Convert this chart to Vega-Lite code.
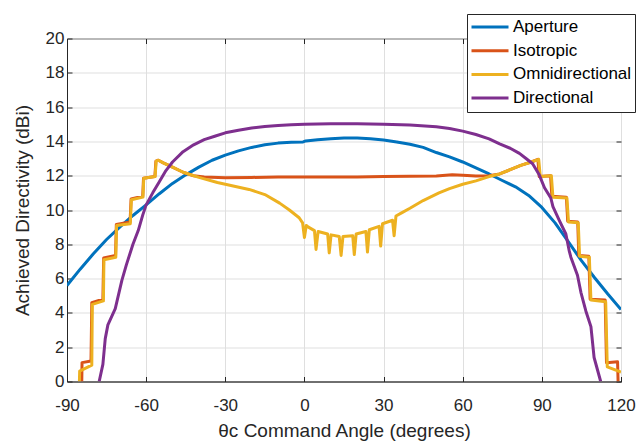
{
  "$schema": "https://vega.github.io/schema/vega-lite/v6.json",
  "autosize": {"type": "none"},
  "padding": {"left": 67, "top": 38.5, "right": 18, "bottom": 63.5},
  "width": 554,
  "height": 343,
  "background": "white",
  "config": {
    "font": "Liberation Sans",
    "view": {"stroke": "#262626", "strokeWidth": 1}
  },
  "data": {"values": [
    {"series":"Aperture","angle":-90,"dbi":5.6},{"series":"Aperture","angle":-85,"dbi":6.55},{"series":"Aperture","angle":-80,"dbi":7.45},{"series":"Aperture","angle":-75,"dbi":8.28},{"series":"Aperture","angle":-70,"dbi":9.0},{"series":"Aperture","angle":-65,"dbi":9.68},{"series":"Aperture","angle":-60,"dbi":10.3},{"series":"Aperture","angle":-55,"dbi":10.95},{"series":"Aperture","angle":-50,"dbi":11.55},{"series":"Aperture","angle":-45,"dbi":12.05},{"series":"Aperture","angle":-40,"dbi":12.5},{"series":"Aperture","angle":-35,"dbi":12.9},{"series":"Aperture","angle":-30,"dbi":13.2},{"series":"Aperture","angle":-25,"dbi":13.45},{"series":"Aperture","angle":-20,"dbi":13.65},{"series":"Aperture","angle":-15,"dbi":13.8},{"series":"Aperture","angle":-10,"dbi":13.9},{"series":"Aperture","angle":-5,"dbi":13.95},{"series":"Aperture","angle":-0.5,"dbi":13.97},{"series":"Aperture","angle":0.5,"dbi":14.03},{"series":"Aperture","angle":5,"dbi":14.1},{"series":"Aperture","angle":10,"dbi":14.15},{"series":"Aperture","angle":15,"dbi":14.2},{"series":"Aperture","angle":20,"dbi":14.2},{"series":"Aperture","angle":25,"dbi":14.15},{"series":"Aperture","angle":30,"dbi":14.08},{"series":"Aperture","angle":35,"dbi":13.97},{"series":"Aperture","angle":40,"dbi":13.83},{"series":"Aperture","angle":45,"dbi":13.65},{"series":"Aperture","angle":50,"dbi":13.35},{"series":"Aperture","angle":55,"dbi":13.1},{"series":"Aperture","angle":60,"dbi":12.8},{"series":"Aperture","angle":65,"dbi":12.45},{"series":"Aperture","angle":70,"dbi":12.1},{"series":"Aperture","angle":75,"dbi":11.72},{"series":"Aperture","angle":80,"dbi":11.35},{"series":"Aperture","angle":85,"dbi":10.85},{"series":"Aperture","angle":90,"dbi":10.15},{"series":"Aperture","angle":95,"dbi":9.25},{"series":"Aperture","angle":100,"dbi":8.15},{"series":"Aperture","angle":105,"dbi":7.05},{"series":"Aperture","angle":110,"dbi":6.05},{"series":"Aperture","angle":115,"dbi":5.1},{"series":"Aperture","angle":120,"dbi":4.2},

    {"series":"Isotropic","angle":-84.4,"dbi":0},{"series":"Isotropic","angle":-84.3,"dbi":1.1},{"series":"Isotropic","angle":-80.9,"dbi":1.2},{"series":"Isotropic","angle":-80.6,"dbi":4.6},{"series":"Isotropic","angle":-76.4,"dbi":4.8},{"series":"Isotropic","angle":-76.1,"dbi":7.2},{"series":"Isotropic","angle":-71.6,"dbi":7.35},{"series":"Isotropic","angle":-71.3,"dbi":9.15},{"series":"Isotropic","angle":-66.1,"dbi":9.3},{"series":"Isotropic","angle":-65.7,"dbi":10.65},{"series":"Isotropic","angle":-61.3,"dbi":10.8},{"series":"Isotropic","angle":-61.0,"dbi":11.85},{"series":"Isotropic","angle":-56.7,"dbi":11.95},{"series":"Isotropic","angle":-56.3,"dbi":12.85},{"series":"Isotropic","angle":-55.4,"dbi":12.9},{"series":"Isotropic","angle":-53.5,"dbi":12.75},{"series":"Isotropic","angle":-50,"dbi":12.5},{"series":"Isotropic","angle":-46,"dbi":12.2},{"series":"Isotropic","angle":-42,"dbi":12.0},{"series":"Isotropic","angle":-38,"dbi":11.93},{"series":"Isotropic","angle":-30,"dbi":11.88},{"series":"Isotropic","angle":-20,"dbi":11.9},{"series":"Isotropic","angle":-10,"dbi":11.92},{"series":"Isotropic","angle":0,"dbi":11.92},{"series":"Isotropic","angle":10,"dbi":11.93},{"series":"Isotropic","angle":20,"dbi":11.92},{"series":"Isotropic","angle":30,"dbi":11.95},{"series":"Isotropic","angle":40,"dbi":11.97},{"series":"Isotropic","angle":50,"dbi":11.98},{"series":"Isotropic","angle":56,"dbi":12.05},{"series":"Isotropic","angle":60,"dbi":12.03},{"series":"Isotropic","angle":65,"dbi":11.98},{"series":"Isotropic","angle":70,"dbi":12.0},{"series":"Isotropic","angle":74,"dbi":12.1},{"series":"Isotropic","angle":78,"dbi":12.35},{"series":"Isotropic","angle":82,"dbi":12.6},{"series":"Isotropic","angle":86,"dbi":12.8},{"series":"Isotropic","angle":88.5,"dbi":12.95},{"series":"Isotropic","angle":89.0,"dbi":11.95},{"series":"Isotropic","angle":93.3,"dbi":12.0},{"series":"Isotropic","angle":93.8,"dbi":10.8},{"series":"Isotropic","angle":99.3,"dbi":10.75},{"series":"Isotropic","angle":99.8,"dbi":9.35},{"series":"Isotropic","angle":103.6,"dbi":9.3},{"series":"Isotropic","angle":104.0,"dbi":7.35},{"series":"Isotropic","angle":107.8,"dbi":7.3},{"series":"Isotropic","angle":108.3,"dbi":4.8},{"series":"Isotropic","angle":114.0,"dbi":4.75},{"series":"Isotropic","angle":114.5,"dbi":1.1},{"series":"Isotropic","angle":118.7,"dbi":1.15},{"series":"Isotropic","angle":118.9,"dbi":0},

    {"series":"Omnidirectional","angle":-85.3,"dbi":0},{"series":"Omnidirectional","angle":-85.2,"dbi":0.6},{"series":"Omnidirectional","angle":-80.6,"dbi":0.95},{"series":"Omnidirectional","angle":-80.4,"dbi":4.5},{"series":"Omnidirectional","angle":-76.2,"dbi":4.7},{"series":"Omnidirectional","angle":-76.0,"dbi":7.1},{"series":"Omnidirectional","angle":-71.5,"dbi":7.25},{"series":"Omnidirectional","angle":-71.2,"dbi":9.1},{"series":"Omnidirectional","angle":-66.0,"dbi":9.2},{"series":"Omnidirectional","angle":-65.6,"dbi":10.6},{"series":"Omnidirectional","angle":-61.2,"dbi":10.75},{"series":"Omnidirectional","angle":-60.9,"dbi":11.85},{"series":"Omnidirectional","angle":-56.6,"dbi":11.95},{"series":"Omnidirectional","angle":-56.2,"dbi":12.85},{"series":"Omnidirectional","angle":-55.3,"dbi":12.9},{"series":"Omnidirectional","angle":-53.5,"dbi":12.75},{"series":"Omnidirectional","angle":-50,"dbi":12.5},{"series":"Omnidirectional","angle":-46,"dbi":12.2},{"series":"Omnidirectional","angle":-40,"dbi":11.9},{"series":"Omnidirectional","angle":-33,"dbi":11.6},{"series":"Omnidirectional","angle":-27,"dbi":11.4},{"series":"Omnidirectional","angle":-21,"dbi":11.2},{"series":"Omnidirectional","angle":-15,"dbi":10.9},{"series":"Omnidirectional","angle":-9.4,"dbi":10.4},{"series":"Omnidirectional","angle":-5.7,"dbi":10.0},{"series":"Omnidirectional","angle":-2,"dbi":9.55},{"series":"Omnidirectional","angle":-0.7,"dbi":9.25},{"series":"Omnidirectional","angle":0,"dbi":8.4},{"series":"Omnidirectional","angle":0.7,"dbi":9.1},{"series":"Omnidirectional","angle":1.5,"dbi":9.0},{"series":"Omnidirectional","angle":3.8,"dbi":8.8},{"series":"Omnidirectional","angle":4.4,"dbi":7.7},{"series":"Omnidirectional","angle":5.2,"dbi":8.75},{"series":"Omnidirectional","angle":8.8,"dbi":8.6},{"series":"Omnidirectional","angle":9.4,"dbi":7.5},{"series":"Omnidirectional","angle":10.1,"dbi":8.55},{"series":"Omnidirectional","angle":13.2,"dbi":8.45},{"series":"Omnidirectional","angle":13.9,"dbi":7.35},{"series":"Omnidirectional","angle":14.6,"dbi":8.45},{"series":"Omnidirectional","angle":18.3,"dbi":8.5},{"series":"Omnidirectional","angle":18.9,"dbi":7.4},{"series":"Omnidirectional","angle":19.6,"dbi":8.6},{"series":"Omnidirectional","angle":23.3,"dbi":8.75},{"series":"Omnidirectional","angle":23.9,"dbi":7.55},{"series":"Omnidirectional","angle":24.6,"dbi":8.85},{"series":"Omnidirectional","angle":28.3,"dbi":9.05},{"series":"Omnidirectional","angle":28.9,"dbi":7.9},{"series":"Omnidirectional","angle":29.6,"dbi":9.2},{"series":"Omnidirectional","angle":33.4,"dbi":9.4},{"series":"Omnidirectional","angle":34.0,"dbi":8.5},{"series":"Omnidirectional","angle":34.7,"dbi":9.65},{"series":"Omnidirectional","angle":37,"dbi":9.85},{"series":"Omnidirectional","angle":40,"dbi":10.1},{"series":"Omnidirectional","angle":45,"dbi":10.55},{"series":"Omnidirectional","angle":51,"dbi":11.0},{"series":"Omnidirectional","angle":55,"dbi":11.25},{"series":"Omnidirectional","angle":60,"dbi":11.5},{"series":"Omnidirectional","angle":65,"dbi":11.7},{"series":"Omnidirectional","angle":70,"dbi":11.95},{"series":"Omnidirectional","angle":74,"dbi":12.1},{"series":"Omnidirectional","angle":78,"dbi":12.35},{"series":"Omnidirectional","angle":82,"dbi":12.6},{"series":"Omnidirectional","angle":86,"dbi":12.8},{"series":"Omnidirectional","angle":88.8,"dbi":12.95},{"series":"Omnidirectional","angle":89.4,"dbi":11.95},{"series":"Omnidirectional","angle":93.6,"dbi":12.0},{"series":"Omnidirectional","angle":94.2,"dbi":10.75},{"series":"Omnidirectional","angle":99.5,"dbi":10.7},{"series":"Omnidirectional","angle":100.1,"dbi":9.3},{"series":"Omnidirectional","angle":103.8,"dbi":9.25},{"series":"Omnidirectional","angle":104.3,"dbi":7.3},{"series":"Omnidirectional","angle":108.0,"dbi":7.25},{"series":"Omnidirectional","angle":108.6,"dbi":4.75},{"series":"Omnidirectional","angle":114.2,"dbi":4.65},{"series":"Omnidirectional","angle":114.8,"dbi":0.85},{"series":"Omnidirectional","angle":120,"dbi":0.55},

    {"series":"Directional","angle":-77.8,"dbi":0},{"series":"Directional","angle":-76.4,"dbi":1.0},{"series":"Directional","angle":-75.5,"dbi":2.5},{"series":"Directional","angle":-74.5,"dbi":3.3},{"series":"Directional","angle":-71.7,"dbi":4.25},{"series":"Directional","angle":-69.2,"dbi":5.9},{"series":"Directional","angle":-67.5,"dbi":6.8},{"series":"Directional","angle":-65,"dbi":8.0},{"series":"Directional","angle":-63,"dbi":8.8},{"series":"Directional","angle":-61.3,"dbi":9.7},{"series":"Directional","angle":-60,"dbi":10.3},{"series":"Directional","angle":-57.5,"dbi":11.0},{"series":"Directional","angle":-55,"dbi":11.65},{"series":"Directional","angle":-52.5,"dbi":12.3},{"series":"Directional","angle":-50,"dbi":12.8},{"series":"Directional","angle":-46,"dbi":13.4},{"series":"Directional","angle":-42,"dbi":13.8},{"series":"Directional","angle":-38,"dbi":14.1},{"series":"Directional","angle":-34,"dbi":14.3},{"series":"Directional","angle":-30,"dbi":14.5},{"series":"Directional","angle":-25,"dbi":14.65},{"series":"Directional","angle":-20,"dbi":14.78},{"series":"Directional","angle":-15,"dbi":14.87},{"series":"Directional","angle":-10,"dbi":14.93},{"series":"Directional","angle":-5,"dbi":14.97},{"series":"Directional","angle":0,"dbi":15.0},{"series":"Directional","angle":10,"dbi":15.03},{"series":"Directional","angle":20,"dbi":15.03},{"series":"Directional","angle":30,"dbi":15.0},{"series":"Directional","angle":40,"dbi":14.95},{"series":"Directional","angle":50,"dbi":14.85},{"series":"Directional","angle":55,"dbi":14.75},{"series":"Directional","angle":60,"dbi":14.6},{"series":"Directional","angle":65,"dbi":14.4},{"series":"Directional","angle":70,"dbi":14.15},{"series":"Directional","angle":74,"dbi":13.85},{"series":"Directional","angle":78,"dbi":13.6},{"series":"Directional","angle":81.5,"dbi":13.3},{"series":"Directional","angle":84,"dbi":13.0},{"series":"Directional","angle":86.5,"dbi":12.7},{"series":"Directional","angle":89,"dbi":12.05},{"series":"Directional","angle":91,"dbi":11.3},{"series":"Directional","angle":93.4,"dbi":10.7},{"series":"Directional","angle":94.2,"dbi":10.2},{"series":"Directional","angle":96.6,"dbi":9.4},{"series":"Directional","angle":99.1,"dbi":8.6},{"series":"Directional","angle":100.4,"dbi":7.6},{"series":"Directional","angle":101,"dbi":7.25},{"series":"Directional","angle":103.5,"dbi":6.2},{"series":"Directional","angle":104.8,"dbi":5.2},{"series":"Directional","angle":106.7,"dbi":4.1},{"series":"Directional","angle":108.6,"dbi":3.2},{"series":"Directional","angle":109.8,"dbi":1.4},{"series":"Directional","angle":112.3,"dbi":0}
  ]},
  "layer": [
    {
      "mark": {"type": "line", "strokeWidth": 3, "clip": true, "strokeJoin": "round"},
      "encoding": {
        "x": {
          "field": "angle", "type": "quantitative",
          "scale": {"domain": [-90, 120], "nice": false, "zero": false},
          "axis": {
            "orient": "bottom",
            "values": [-90, -60, -30, 0, 30, 60, 90, 120],
            "labelExpr": "toString(datum.value)",
            "title": "θc Command Angle (degrees)",
            "titleFontSize": 19, "titleFontWeight": "normal", "titleColor": "#262626", "titlePadding": 8,
            "labelFontSize": 17, "labelColor": "#262626", "labelPadding": 21, "labelFlush": false,
            "tickSize": -5, "tickColor": "#262626", "domainColor": "#262626",
            "gridColor": "#dfdfdf", "grid": true
          }
        },
        "y": {
          "field": "dbi", "type": "quantitative",
          "scale": {"domain": [0, 20], "nice": false, "zero": false},
          "axis": {
            "orient": "left",
            "values": [0, 2, 4, 6, 8, 10, 12, 14, 16, 18, 20],
            "title": "Achieved Directivity (dBi)",
            "titleFontSize": 19, "titleFontWeight": "normal", "titleColor": "#262626", "titlePadding": 13,
            "labelFontSize": 17, "labelColor": "#262626", "labelPadding": 8, "labelFlush": false,
            "tickSize": -5, "tickColor": "#262626", "domainColor": "#262626",
            "gridColor": "#dfdfdf", "grid": true
          }
        },
        "color": {
          "field": "series", "type": "nominal",
          "scale": {"domain": ["Aperture", "Isotropic", "Omnidirectional", "Directional"],
                    "range": ["#0072BD", "#D95319", "#EDB120", "#7E2F8E"]},
          "legend": {
            "orient": "none", "legendX": 400, "legendY": -24.5,
            "title": null,
            "symbolType": "stroke", "symbolSize": 1369, "symbolStrokeWidth": 3,
            "labelFontSize": 17, "labelColor": "#000000", "labelOffset": 3,
            "clipHeight": 20, "rowPadding": 3.7,
            "padding": 3, "strokeColor": "#262626", "fillColor": "white"
          }
        }
      }
    },
    {
      "mark": {"type": "point", "opacity": 0},
      "encoding": {
        "x": {"field": "angle", "type": "quantitative",
              "axis": {"orient": "top", "values": [-90, -60, -30, 0, 30, 60, 90, 120], "labels": false, "title": null, "grid": false, "domain": false, "tickSize": -5, "tickColor": "#262626"}},
        "y": {"field": "dbi", "type": "quantitative",
              "axis": {"orient": "right", "values": [0, 2, 4, 6, 8, 10, 12, 14, 16, 18, 20], "labels": false, "title": null, "grid": false, "domain": false, "tickSize": -5, "tickColor": "#262626"}}
      }
    }
  ],
  "resolve": {"axis": {"x": "independent", "y": "independent"}}
}
